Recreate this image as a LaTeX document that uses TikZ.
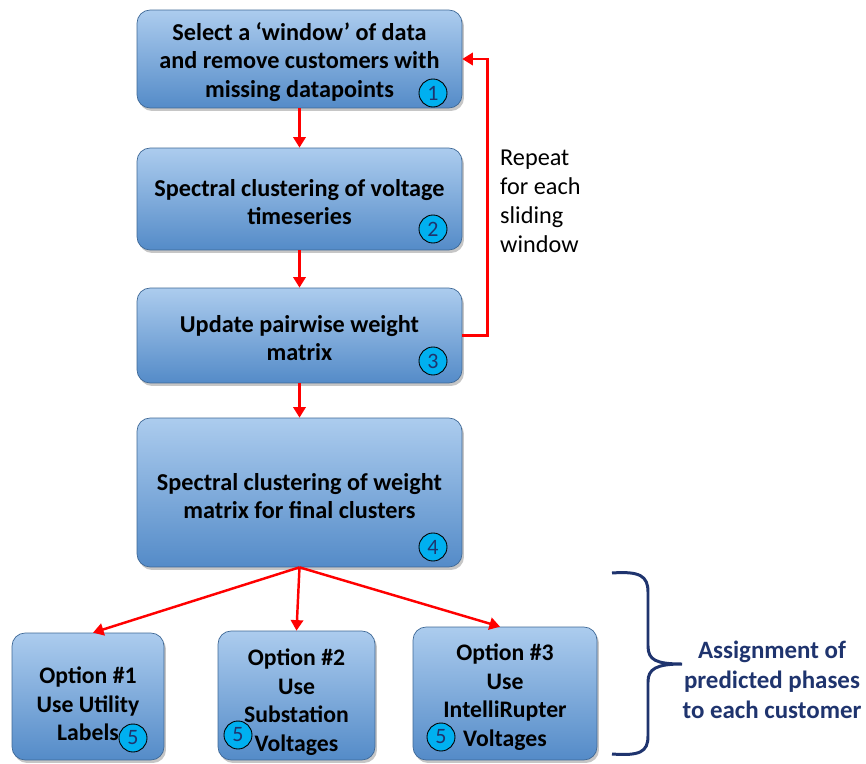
\documentclass[tikz,border=0pt]{standalone}
\usepackage{fontspec}
\setmainfont{Carlito}
\usetikzlibrary{arrows.meta,shadows}
\definecolor{boxtop}{RGB}{172,204,238}
\definecolor{boxbot}{RGB}{84,139,200}
\definecolor{boxline}{RGB}{62,104,150}
\definecolor{badgefill}{RGB}{0,176,240}
\definecolor{navytext}{RGB}{31,52,110}
\begin{document}
\begin{tikzpicture}[x=0.02cm,y=-0.02cm,
  stepbox/.style={draw=boxline,line width=0.4pt,rounded corners=0.26cm,top color=boxtop,bottom color=boxbot,
    drop shadow={shadow xshift=0.04cm,shadow yshift=-0.06cm,opacity=0.45},inner sep=0pt},
  steptext/.style={align=center,font=\bfseries\fontsize{13.8}{16.1}\selectfont,inner sep=0pt},
  opttext/.style={align=center,font=\bfseries\fontsize{13.5}{16.2}\selectfont,inner sep=0pt},
  badge/.style={circle,draw=black,line width=0.5pt,fill=badgefill,minimum size=0.56cm,inner sep=0pt,
    text=navytext,font=\fontsize{12.5}{14}\selectfont},
  flow/.style={-{Triangle[width=7pt,length=6pt]},red,line width=1.4pt}]
  \useasboundingbox (0,0) rectangle (866,764);
  % main steps
  \node[stepbox,minimum width=6.5cm,minimum height=1.96cm] (select) at (299.5,59) {};
  \node[steptext] (selecttext) at (299.5,62) {Select a `window' of data\\and remove customers with\\missing datapoints};
  \node[stepbox,minimum width=6.5cm,minimum height=2.04cm] (spectral) at (299.5,199) {};
  \node[steptext] (spectraltext) at (299.5,202) {Spectral clustering of voltage\\timeseries};
  \node[stepbox,minimum width=6.5cm,minimum height=1.9cm] (update) at (299.5,335.5) {};
  \node[steptext] (updatetext) at (299.5,338) {Update pairwise weight\\matrix};
  \node[stepbox,minimum width=6.5cm,minimum height=2.98cm] (final) at (299.5,492.5) {};
  \node[steptext] (finaltext) at (299.5,496) {Spectral clustering of weight\\matrix for final clusters};
  % options
  \node[stepbox,minimum width=3.04cm,minimum height=2.54cm] (optutil) at (88,696.5) {};
  \node[opttext] (optutiltext) at (88,704) {Option \#1\\Use Utility\\Labels};
  \node[stepbox,minimum width=3.14cm,minimum height=2.58cm] (optsub) at (296.5,695.5) {};
  \node[opttext] (optsubtext) at (296.5,702) {Option \#2\\Use\\Substation\\Voltages};
  \node[stepbox,minimum width=3.68cm,minimum height=2.66cm] (optir) at (505,693.5) {};
  \node[opttext] (optirtext) at (505,697) {Option \#3\\Use\\IntelliRupter\\Voltages};
  % numbered badges
  \node[badge] (b1) at (433,93) {1};
  \node[badge] (b2) at (433,229) {2};
  \node[badge] (b3) at (433,361) {3};
  \node[badge] (b4) at (433,547) {4};
  \node[badge] (b5a) at (133,738) {5};
  \node[badge] (b5b) at (238,735) {5};
  \node[badge] (b5c) at (441,737) {5};
  % connectors
  \draw[flow] (select) -- (spectral);
  \draw[flow] (spectral) -- (update);
  \draw[flow] (update) -- (final);
  \draw[flow] (final.south) -- ([xshift=0.1cm]optutil.north);
  \draw[flow] (final.south) -- (optsub.north);
  \draw[flow] (final.south) -- ([xshift=-0.1cm]optir.north);
  \draw[flow] (update.east) -- ++(25,0) |- (select.east);
  \node[anchor=west,align=left,font=\fontsize{13.8}{16.5}\selectfont] (repeat) at (494,201) {Repeat\\for each\\sliding\\window};
  % bracket for the options
  \draw[navytext,line width=1.7pt] (612,573) .. controls (640,571) and (648,576) .. (648,592) -- (648,646)
    .. controls (648,660) and (656,664) .. (682,664) .. controls (656,664) and (648,669) .. (648,682)
    -- (648,736) .. controls (648,752) and (640,756) .. (612,754);
  \node[align=center,text=navytext,font=\bfseries\fontsize{14.2}{17}\selectfont] (assign) at (772,680) {Assignment of\\predicted phases\\to each customer};
\end{tikzpicture}
\end{document}
